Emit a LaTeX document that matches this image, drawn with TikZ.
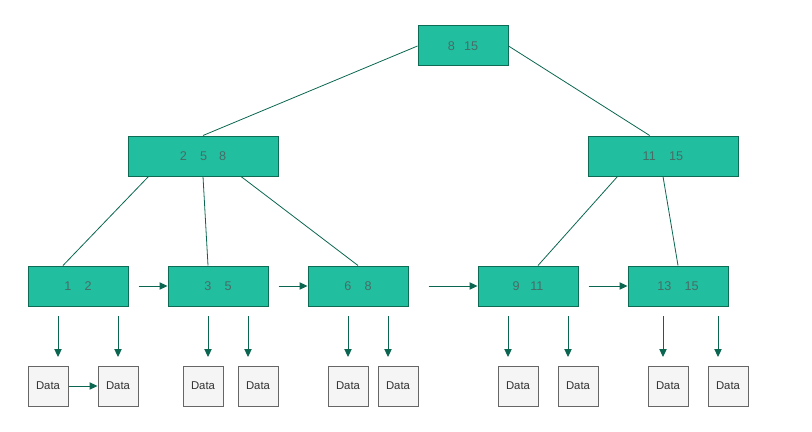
\documentclass[tikz,border=0pt]{standalone}
\usepackage{fontspec}
\setmainfont{Liberation Sans}
\usetikzlibrary{arrows.meta}

\definecolor{keyfill}{RGB}{33,191,160}
\definecolor{keyline}{RGB}{14,108,84}
\definecolor{keytext}{RGB}{72,108,102}
\definecolor{linkcol}{RGB}{10,102,80}
\definecolor{datafill}{RGB}{245,245,245}
\definecolor{dataline}{RGB}{102,102,102}
\definecolor{datatext}{RGB}{51,51,51}

\begin{document}
\begin{tikzpicture}[x=0.75pt,y=-0.75pt,
    keybox/.style={draw=keyline, fill=keyfill, text=keytext, line width=0.75pt,
        minimum height=30pt, inner sep=0pt, font=\fontsize{9.5}{11}\selectfont},
    databox/.style={draw=dataline, fill=datafill, text=datatext, line width=0.75pt,
        minimum width=30pt, minimum height=30pt, inner sep=0pt, font=\fontsize{8.5}{10}\selectfont},
    link/.style={draw=linkcol, line width=0.6pt},
    arr/.style={draw=linkcol, line width=0.75pt, -{Triangle[length=6pt,width=5.5pt]}}]

        \useasboundingbox (0,0) rectangle (812,431);

        % the inner keys
        \node[keybox, minimum width=67.5pt] (root) at (463,46) {8\hspace{7pt}15};
        \node[keybox, minimum width=112.5pt] (k1) at (203,156) {2\hspace{10pt}5\hspace{9pt}8};
        \node[keybox, minimum width=112.5pt] (k2) at (663,156) {11\hspace{10pt}15};

        % the leaves
        \node[keybox, minimum width=75pt] (l1) at (78,286) {1\hspace{10pt}2};
        \node[keybox, minimum width=75pt] (l2) at (218,286) {3\hspace{10pt}5};
        \node[keybox, minimum width=75pt] (l3) at (358,286) {6\hspace{10pt}8};
        \node[keybox, minimum width=75pt] (l4) at (528,286) {9\hspace{8pt}11};
        \node[keybox, minimum width=75pt] (l5) at (678,286) {13\hspace{10pt}15};

        % the data blocks
        \node[databox] (d1) at (48,386) {Data};
        \node[databox] (d2) at (118,386) {Data};
        \node[databox] (d3) at (203,386) {Data};
        \node[databox] (d4) at (258,386) {Data};
        \node[databox] (d5) at (348,386) {Data};
        \node[databox] (d6) at (398,386) {Data};
        \node[databox] (d7) at (518,386) {Data};
        \node[databox] (d8) at (578,386) {Data};
        \node[databox] (d9) at (668,386) {Data};
        \node[databox] (d10) at (728,386) {Data};

        % tree lines
        \draw[link] (root.west) -- (k1.north);
        \draw[link] (root.east) -- ([xshift=-10pt]k2.north);
        \draw[link] ([xshift=15.75pt]k1.south west) -- ([xshift=-11.25pt]l1.north);
        \draw[link] (k1.south) -- ([xshift=-7.5pt]l2.north);
        \draw[link] ([xshift=28.5pt]k1.south) -- (l3.north);
        \draw[link] ([xshift=22.5pt]k2.south west) -- ([xshift=7.5pt]l4.north);
        \draw[link] (k2.south) -- (l5.north);

        % leaf chain
        \draw[arr] ([xshift=7.5pt]l1.east) -- (l2.west);
        \draw[arr] ([xshift=7.5pt]l2.east) -- (l3.west);
        \draw[arr] ([xshift=15pt]l3.east) -- (l4.west);
        \draw[arr] ([xshift=7.5pt]l4.east) -- (l5.west);
        \draw[arr] (d1.east) -- (d2.west);

        % pointers down to the data
        \foreach \x [count=\i] in {58,118,208,248,348,388,508,568,663,718} {
            \coordinate (t\i) at (\x,316);
            \coordinate (h\i) at (\x,357);
            \draw[arr] (t\i) -- (h\i);
        }

\end{tikzpicture}
\end{document}
